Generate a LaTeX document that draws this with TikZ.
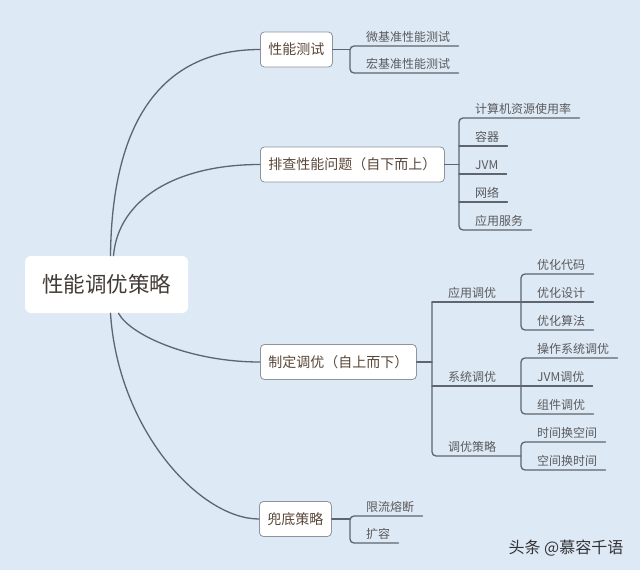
\documentclass[tikz,border=0pt]{standalone}
\usepackage{fontspec}
\setmainfont{Noto Sans CJK SC}
\definecolor{bg}{HTML}{DEE9F6}
\definecolor{linec}{HTML}{5E6470}
\definecolor{boxc}{HTML}{8E939C}
\definecolor{topicc}{HTML}{5A4638}
\definecolor{rootc}{HTML}{433B35}
\definecolor{leafc}{HTML}{5A5A5A}
\begin{document}
\begin{tikzpicture}[x=1pt,y=-1pt,line join=round,line cap=round,font=\fontsize{12}{15}\selectfont,
	branch/.style={draw=linec,line width=1.3pt},
	topic/.style={draw=boxc,line width=0.8pt,fill=white,rounded corners=4pt,text=topicc,font=\fontsize{14}{17}\selectfont,minimum height=35pt,inner xsep=8pt,anchor=west},
	leaf/.style={text=leafc,inner sep=0pt,anchor=base west}]
	\fill[bg] (0,0) rectangle (640,570);
	\useasboundingbox (0,0) rectangle (640,570);
	% root and main topics
	\node[fill=white,rounded corners=6pt,minimum width=163pt,minimum height=57pt,text=rootc,font=\fontsize{21.5}{26}\selectfont] (root) at (106.5,284.5) {性能调优策略};
	\node[topic] (test) at (260,49.5) {性能测试};
	\node[topic] (find) at (260,164.5) {排查性能问题（自下而上）};
	\node[topic] (tune) at (260,362) {制定调优（自上而下）};
	\node[topic] (safe) at (259,519) {兜底策略};
	\draw[branch] ([xshift=4pt]root.north) .. controls (112,110) and (170,49.5) .. (test.west);
	\draw[branch] ([xshift=7pt]root.north) .. controls (118,200) and (175,164.5) .. (find.west);
	\draw[branch] ([xshift=12pt]root.south) .. controls (130,335) and (190,362) .. (tune.west);
	\draw[branch] ([xshift=4pt]root.south) .. controls (118,430) and (200,519) .. (safe.west);
	% leaves
	\foreach \n/\x/\y/\t in {a1/366/46/微基准性能测试,a2/366/73/宏基准性能测试,
		b1/475/118/计算机资源使用率,b2/475/146/容器,b3/475/174/JVM,b4/475/202/网络,b5/475/230/应用服务,
		c1/448/302/应用调优,c2/448/386/系统调优,c3/448/456/调优策略,
		x1/537/274/优化代码,x2/537/302/优化设计,x3/537/330/优化算法,
		y1/537/358/操作系统调优,y2/537/386/JVM调优,y3/537/414/组件调优,
		z1/537/442/时间换空间,z2/537/470/空间换时间,
		d1/366/516/限流熔断,d2/366/543/扩容}{
		\node[leaf] (\n) at (\x,\y-4.5) {\t};
		\coordinate (s\n) at ([xshift=-16pt,yshift=-4.5pt]\n.base west);
		\coordinate (e\n) at ([xshift=8pt,yshift=-4.5pt]\n.base east);
	}
	\draw[branch] (test.east) -- (test.east -| sa1);
	\draw[branch,rounded corners=4pt] (ea1) -- (sa1) -- (sa2) -- (ea2);
	\draw[branch] (find.east) -- (find.east -| sb1);
	\draw[branch,rounded corners=4pt] (eb1) -- (sb1) -- (sb5) -- (eb5);
	\foreach \n in {b2,b3,b4} \draw[branch] (s\n) -- (e\n);
	\draw[branch] (tune.east) -- (tune.east -| sc1);
	\draw[branch,rounded corners=4pt] (sc1) -- (sc3) -- (sc3 -| sz1);
	\draw[branch] (sc1) -- (sc1 -| sx1) (sc2) -- (sc2 -| sy1);
	\draw[branch,rounded corners=4pt] (ex1) -- (sx1) -- (sx3) -- (ex3);
	\draw[branch,rounded corners=4pt] (ey1) -- (sy1) -- (sy3) -- (ey3);
	\draw[branch,rounded corners=4pt] (ez1) -- (sz1) -- (sz2) -- (ez2);
	\draw[branch] (sx2) -- (ex2) (sy2) -- (ey2);
	\draw[branch] (safe.east) -- (safe.east -| sd1);
	\draw[branch,rounded corners=4pt] (ed1) -- (sd1) -- (sd2) -- (ed2);
	\node[text=black!80,font=\fontsize{16}{19}\selectfont] (mark) at (566,548) {头条 @慕容千语};
\end{tikzpicture}
\end{document}
